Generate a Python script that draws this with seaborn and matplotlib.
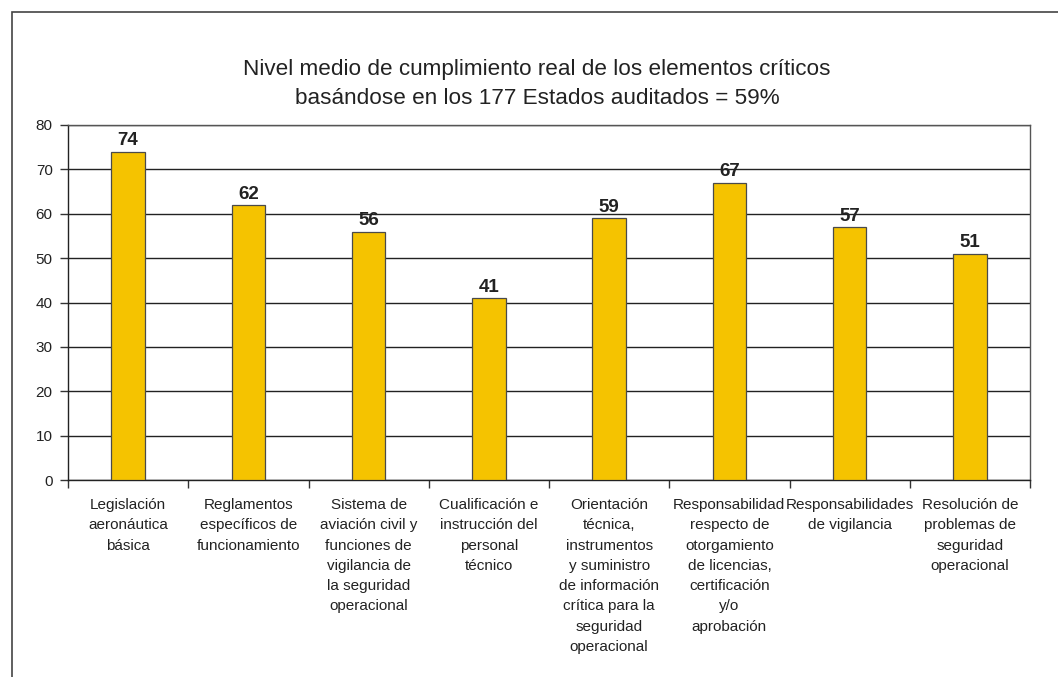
import matplotlib
matplotlib.use("Agg")
import matplotlib.pyplot as plt
from matplotlib.patches import Rectangle
import seaborn as sns
import pandas as pd

categories = [
    "Legislación\naeronáutica\nbásica",
    "Reglamentos\nespecíficos de\nfuncionamiento",
    "Sistema de\naviación civil y\nfunciones de\nvigilancia de\nla seguridad\noperacional",
    "Cualificación e\ninstrucción del\npersonal\ntécnico",
    "Orientación\ntécnica,\ninstrumentos\ny suministro\nde información\ncrítica para la\nseguridad\noperacional",
    "Responsabilidad\nrespecto de\notorgamiento\nde licencias,\ncertificación\ny/o\naprobación",
    "Responsabilidades\nde vigilancia",
    "Resolución de\nproblemas de\nseguridad\noperacional",
]
values = [74, 62, 56, 41, 59, 67, 57, 51]
y_ticks = [0, 10, 20, 30, 40, 50, 60, 70, 80]
title_lines = [
    "Nivel medio de cumplimiento real de los elementos críticos",
    "basándose en los 177 Estados auditados = 59%",
]

sns.set_theme(style="white")
plt.rcParams["font.family"] = ["Liberation Sans", "DejaVu Sans"]

df = pd.DataFrame({"categoria": categories, "valor": values})

W, H = 1058, 677
fig = plt.figure(figsize=(W / 100, H / 100), dpi=100)
ax = fig.add_axes([68 / W, 1 - 480 / H, (1030 - 68) / W, (480 - 125) / H])

sns.barplot(data=df, x="categoria", y="valor", color="#F5C300",
            saturation=1, width=0.28, edgecolor="#4a4a4a", linewidth=0.9,
            ax=ax, zorder=3)

ax.set_ylim(0, 80)
ax.set_xlim(-0.5, len(categories) - 0.5)
ax.set_yticks(y_ticks)
ax.set_yticklabels([str(t) for t in y_ticks], fontsize=11, color="#222222")
ax.yaxis.grid(True, color="#222222", linewidth=1.0, zorder=0)
ax.xaxis.grid(False)
ax.set_axisbelow(True)
ax.set_xlabel("")
ax.set_ylabel("")

# category labels centred on bars, tick marks at category boundaries
ax.set_xticks(range(len(categories)))
ax.set_xticklabels(categories, fontsize=11, color="#222222", linespacing=1.57,
                   va="top")
ax.tick_params(axis="x", length=0, pad=13)
ax.set_xticks([i - 0.5 for i in range(len(categories) + 1)], minor=True)
ax.tick_params(axis="x", which="minor", length=6, width=1, color="#333333",
               direction="out", bottom=True)
ax.tick_params(axis="y", length=6, width=1, color="#333333", direction="out",
               left=True, pad=5)

for s in ax.spines.values():
    s.set_visible(True)
    s.set_color("#555555")
    s.set_linewidth(1.0)
ax.spines["bottom"].set_color("#222222")
ax.spines["left"].set_color("#222222")

for i, v in enumerate(values):
    ax.text(i, v + 0.5, str(v), ha="center", va="bottom", fontsize=13.5,
            fontweight="bold", color="#222222")

fig.text(537 / W, 1 - 70 / H, title_lines[0], ha="center", va="center",
         fontsize=16.2, color="#222222")
fig.text(537 / W, 1 - 99 / H, title_lines[1], ha="center", va="center",
         fontsize=16.2, color="#222222")

# outer frame around the chart
frame = Rectangle((12 / W, -0.05), 1.1, 1 - 12 / H + 0.05,
                  transform=fig.transFigure, fill=False,
                  edgecolor="#444444", linewidth=1.2)
fig.patches.append(frame)

fig.savefig("out.png", dpi=100)
